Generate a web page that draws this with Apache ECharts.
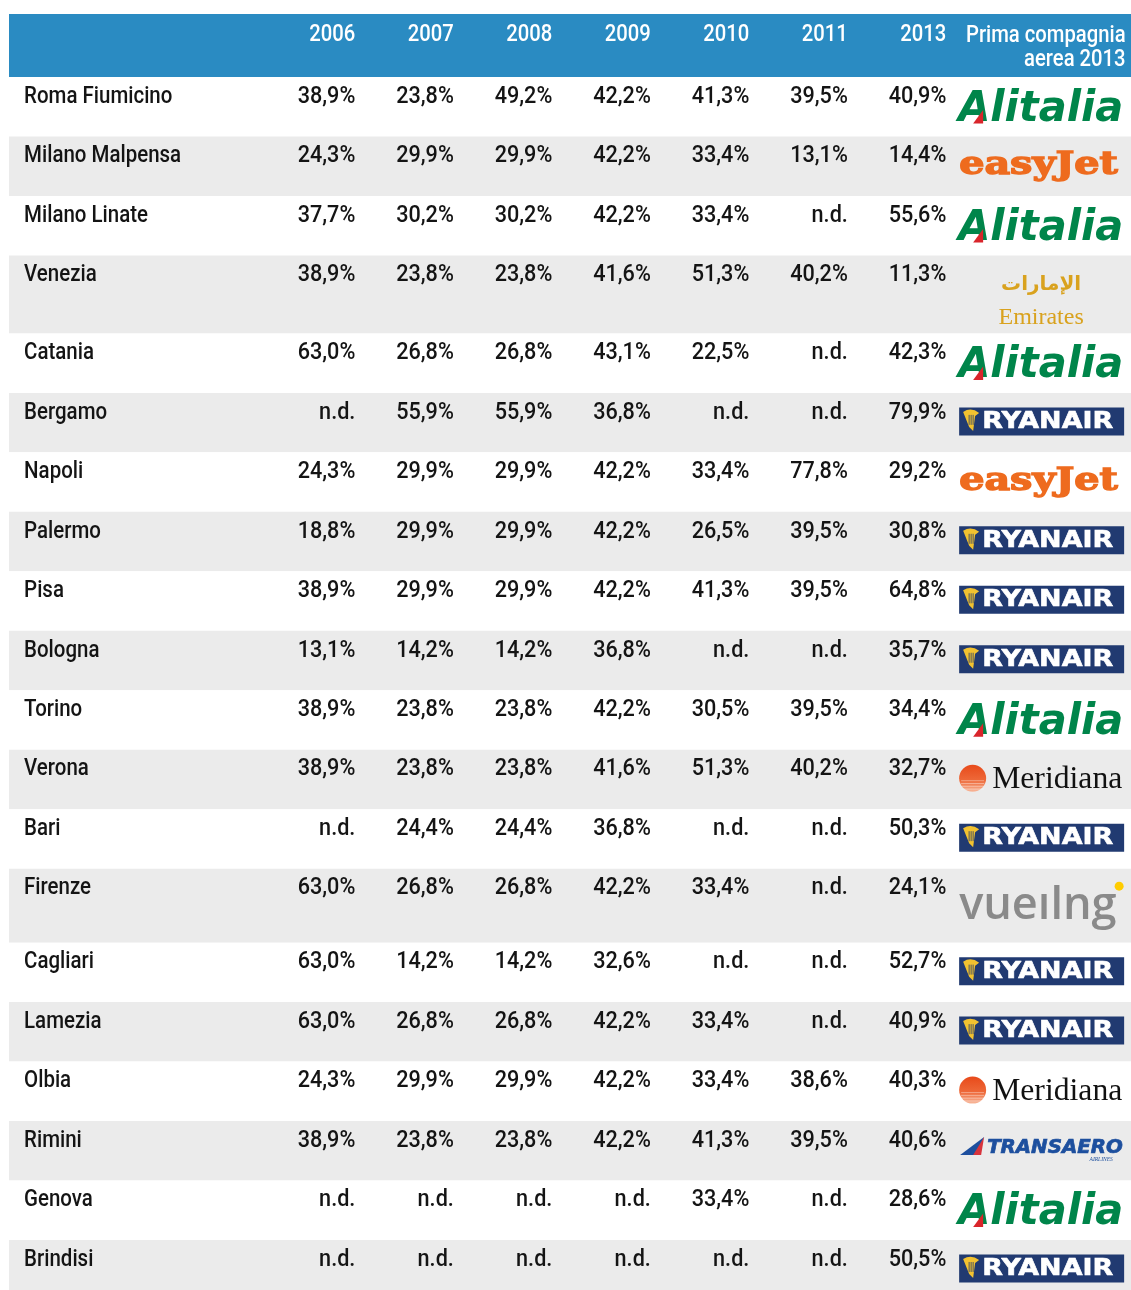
<!DOCTYPE html>
<html><head><meta charset="utf-8">
<script src="https://cdn.jsdelivr.net/npm/echarts@6/dist/echarts.min.js"></script>
<style>html,body{margin:0;padding:0;background:#fff}#chart{width:1131px;height:1290px}</style>
</head><body><div id="chart"></div>
<script>
// ---------------- DATA ----------------
const airports = ['Roma Fiumicino','Milano Malpensa','Milano Linate','Venezia','Catania','Bergamo','Napoli','Palermo','Pisa','Bologna','Torino','Verona','Bari','Firenze','Cagliari','Lamezia','Olbia','Rimini','Genova','Brindisi'];
const years = ['2006','2007','2008','2009','2010','2011','2013'];
const share2006 = [38.9,24.3,37.7,38.9,63.0,null,24.3,18.8,38.9,13.1,38.9,38.9,null,63.0,63.0,63.0,24.3,38.9,null,null];
const share2007 = [23.8,29.9,30.2,23.8,26.8,55.9,29.9,29.9,29.9,14.2,23.8,23.8,24.4,26.8,14.2,26.8,29.9,23.8,null,null];
const share2008 = [49.2,29.9,30.2,23.8,26.8,55.9,29.9,29.9,29.9,14.2,23.8,23.8,24.4,26.8,14.2,26.8,29.9,23.8,null,null];
const share2009 = [42.2,42.2,42.2,41.6,43.1,36.8,42.2,42.2,42.2,36.8,42.2,41.6,36.8,42.2,32.6,42.2,42.2,42.2,null,null];
const share2010 = [41.3,33.4,33.4,51.3,22.5,null,33.4,26.5,41.3,null,30.5,51.3,null,33.4,null,33.4,33.4,41.3,33.4,null];
const share2011 = [39.5,13.1,null,40.2,null,null,77.8,39.5,39.5,null,39.5,40.2,null,null,null,null,38.6,39.5,null,null];
const share2013 = [40.9,14.4,55.6,11.3,42.3,79.9,29.2,30.8,64.8,35.7,34.4,32.7,50.3,24.1,52.7,40.9,40.3,40.6,28.6,50.5];
const topAirline2013 = ['Alitalia','easyJet','Alitalia','Emirates','Alitalia','Ryanair','easyJet','Ryanair','Ryanair','Ryanair','Alitalia','Meridiana','Ryanair','Vueling','Ryanair','Ryanair','Meridiana','Transaero','Alitalia','Ryanair'];
const headerTitle = 'Prima compagnia\naerea 2013';
const naLabel = 'n.d.';

// ---------------- LAYOUT ----------------
const CHART_H = 1290, GRID_TOP = 14;
const ROW_PX = 59.47, HEADER_PX = 63;
const tallRowPx = { Emirates: 78, Vueling: 74 };
const X_MIN = -2.516, X_MAX = 8.875, NAME_X = -2.363, LOGO_X = 7.12, TITLE_X = 8.82;
const TEXT_FONT = 'Roboto', TEXT_COLOR = '#141414';

const yearSeries = [share2006, share2007, share2008, share2009, share2010, share2011, share2013];
const fmt = v => v == null ? naLabel : v.toFixed(1).replace('.', ',') + '%';

const rowHeightsPx = topAirline2013.map(a => tallRowPx[a] || ROW_PX);
const rowTop = [];
let acc = HEADER_PX / ROW_PX;
rowHeightsPx.forEach(h => { rowTop.push(acc); acc += h / ROW_PX; });
const GRID_H = CHART_H - GRID_TOP;
const Y_MAX = GRID_H / ROW_PX;   // visible part of the table (last row is cut by the picture edge)

const cells = [];
yearSeries.forEach((arr, j) => arr.forEach((v, i) => cells.push({ x: j + 1, y: rowTop[i], text: fmt(v) })));

function txt(x, y, text, o) {
  const st = {
    x: 0, y: 0, text: text, fill: o.fill || TEXT_COLOR,
    fontSize: o.size, fontFamily: o.family || TEXT_FONT,
    fontWeight: o.weight || 'normal', fontStyle: o.style || 'normal',
    align: o.align || 'left', verticalAlign: o.va || 'middle'
  };
  if (o.lineHeight) st.lineHeight = o.lineHeight;
  if (o.stroke) { st.stroke = o.stroke; st.lineWidth = o.lineWidth || 1; }
  return { type: 'text', x: x, y: y, scaleX: o.scaleX || 1, style: st };
}

function logo(name, x, y) {
  const ch = [];
  if (name === 'Alitalia') {
    ch.push(txt(x, y + 33, 'Alitalia', { size: 42, family: 'DejaVu Sans', weight: 'bold', style: 'italic', fill: '#00854A', scaleX: 0.99 }));
    ch.push({ type: 'polygon', shape: { points: [[x + 15, y + 46.5], [x + 25, y + 33], [x + 25, y + 46.5]] }, style: { fill: '#D9252B' } });
  } else if (name === 'easyJet') {
    ch.push(txt(x + 1, y + 29, 'easyJet', { size: 32, family: 'DejaVu Serif', weight: 'bold', fill: '#EE6B1E', stroke: '#EE6B1E', lineWidth: 1.4, scaleX: 1.24 }));
  } else if (name === 'Ryanair') {
    ch.push({ type: 'rect', shape: { x: x + 1, y: y + 14.5, width: 165, height: 28 }, style: { fill: '#213A71' } });
    ch.push({ type: 'path', shape: { pathData: 'M' + (x + 5) + ' ' + (y + 19) + ' Q' + (x + 13) + ' ' + (y + 14) + ' ' + (x + 21) + ' ' + (y + 20) + ' L' + (x + 17) + ' ' + (y + 23) + ' L' + (x + 15) + ' ' + (y + 38) + ' L' + (x + 11) + ' ' + (y + 34) + ' Z' }, style: { fill: '#F2C230' } });
    for (let k = 0; k < 3; k++) ch.push({ type: 'line', shape: { x1: x + 11 + k * 2, y1: y + 22, x2: x + 11 + k * 2, y2: y + 32 }, style: { stroke: '#213A71', lineWidth: 0.8 } });
    ch.push(txt(x + 24, y + 29, 'RYANAIR', { size: 23, family: 'DejaVu Sans', weight: 'bold', fill: '#FFFFFF', stroke: '#FFFFFF', lineWidth: 0.6, scaleX: 1.17 }));
  } else if (name === 'Emirates') {
    ch.push(txt(x + 83, y + 29, 'الإمارات', { size: 20, family: 'DejaVu Sans', weight: 'bold', fill: '#D9A21E', align: 'center' }));
    ch.push(txt(x + 83, y + 62, 'Emirates', { size: 24, family: 'Liberation Serif', fill: '#D9A21E', align: 'center' }));
  } else if (name === 'Meridiana') {
    ch.push({ type: 'circle', shape: { cx: x + 14.5, cy: y + 28.5, r: 13.5 }, style: { fill: new echarts.graphic.LinearGradient(0, 0, 0, 1, [{ offset: 0, color: '#E84A1A' }, { offset: 0.6, color: '#EE6A3A' }, { offset: 1, color: '#F8B79A' }]) } });
    for (let k = 0; k < 4; k++) ch.push({ type: 'line', shape: { x1: x + 3, y1: y + 31 + k * 2.8, x2: x + 26, y2: y + 31 + k * 2.8 }, style: { stroke: 'rgba(255,255,255,0.55)', lineWidth: 0.7 } });
    ch.push(txt(x + 34, y + 30, 'Meridiana', { size: 32, family: 'Liberation Serif', fill: '#111111', scaleX: 0.99 }));
  } else if (name === 'Vueling') {
    ch.push(txt(x + 1, y + 37, 'vueılng', { size: 46, family: 'Open Sans', weight: 600, fill: '#8A8A8A', scaleX: 0.98 }));
    ch.push({ type: 'circle', shape: { cx: x + 161, cy: y + 17.5, r: 4.5 }, style: { fill: '#FFCC00' } });
  } else if (name === 'Transaero') {
    ch.push({ type: 'polygon', shape: { points: [[x + 2, y + 34], [x + 26, y + 16], [x + 18, y + 34]] }, style: { fill: '#1D4F9E' } });
    ch.push({ type: 'polygon', shape: { points: [[x + 15, y + 34], [x + 26, y + 16], [x + 23, y + 34]] }, style: { fill: '#D8343C' } });
    ch.push(txt(x + 29, y + 27.5, 'TRANSAERO', { size: 19, family: 'DejaVu Sans', weight: 'bold', style: 'italic', fill: '#1D4F9E', stroke: '#1D4F9E', lineWidth: 0.7, scaleX: 1.04 }));
    ch.push(txt(x + 143, y + 38.5, 'AIRLINES', { size: 5.5, family: 'Liberation Serif', style: 'italic', fill: '#1D4F9E', align: 'center' }));
  }
  return { type: 'group', children: ch };
}

const chart = echarts.init(document.getElementById('chart'), null, { renderer: 'canvas' });
chart.setOption({
  animation: false,
  backgroundColor: '#FFFFFF',
  grid: { left: 9, top: GRID_TOP, width: 1122, height: GRID_H },
  xAxis: { type: 'value', min: X_MIN, max: X_MAX, show: false },
  yAxis: { type: 'value', min: 0, max: Y_MAX, inverse: true, show: false },
  series: [
    { type: 'custom', name: 'header band', data: [[X_MIN, 0]], silent: true,
      renderItem: (p, api) => {
        const a = api.coord([api.value(0), api.value(1)]);
        const b = api.coord([X_MAX, HEADER_PX / ROW_PX]);
        return { type: 'rect', shape: { x: a[0], y: a[1], width: b[0] - a[0], height: b[1] - a[1] }, style: { fill: '#2A8BC2' } };
      } },
    { type: 'custom', name: 'row bands', data: airports.map((a, i) => [X_MIN, rowTop[i]]), silent: true,
      renderItem: (p, api) => {
        const i = p.dataIndex;
        const a = api.coord([api.value(0), api.value(1)]);
        const b = api.coord([X_MAX, api.value(1) + rowHeightsPx[i] / ROW_PX]);
        return { type: 'rect', shape: { x: a[0], y: a[1], width: b[0] - a[0], height: b[1] - a[1] }, style: { fill: i % 2 ? '#EBEBEB' : '#FFFFFF' } };
      } },
    { type: 'custom', name: 'header labels', data: years.map((y, j) => [j + 1, 0]).concat([[TITLE_X, 0]]), silent: true,
      renderItem: (p, api) => {
        const c = api.coord([api.value(0), api.value(1)]);
        const isTitle = p.dataIndex === years.length;
        return txt(c[0], c[1] + (isTitle ? 34 : 21.5), isTitle ? headerTitle : years[p.dataIndex], { size: 23, weight: 500, fill: '#FFFFFF', align: 'right', scaleX: 0.88, lineHeight: 23.5 });
      } },
    { type: 'custom', name: 'airport', data: airports.map((a, i) => [NAME_X, rowTop[i]]), silent: true,
      renderItem: (p, api) => {
        const c = api.coord([api.value(0), api.value(1)]);
        return txt(c[0], c[1] + 20, airports[p.dataIndex], { size: 23, weight: 500, scaleX: 0.89 });
      } },
    { type: 'custom', name: 'share', data: cells.map(c => [c.x, c.y]), silent: true,
      renderItem: (p, api) => {
        const c = api.coord([api.value(0), api.value(1)]);
        return txt(c[0], c[1] + 20, cells[p.dataIndex].text, { size: 23, weight: 500, align: 'right', scaleX: 0.94 });
      } },
    { type: 'custom', name: 'prima compagnia 2013', data: airports.map((a, i) => [LOGO_X, rowTop[i]]), silent: true,
      renderItem: (p, api) => {
        const c = api.coord([api.value(0), api.value(1)]);
        return logo(topAirline2013[p.dataIndex], c[0], c[1]);
      } }
  ]
});
</script></body></html>
